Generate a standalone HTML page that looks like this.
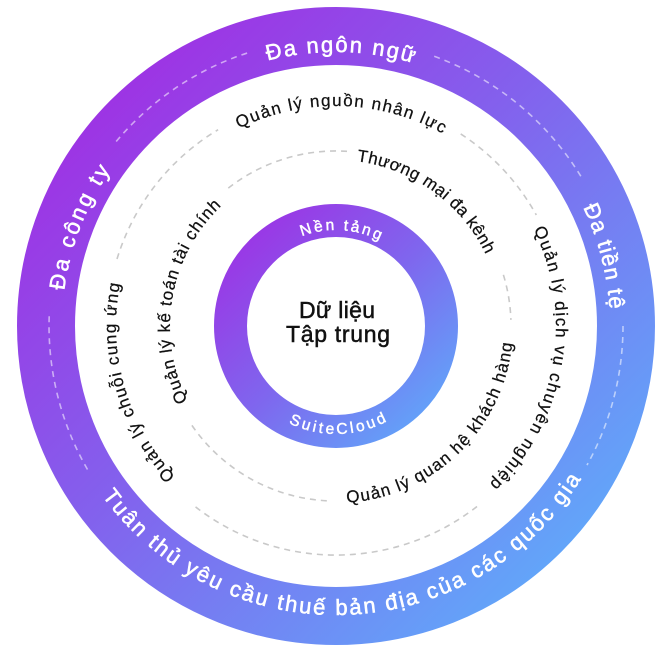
<!DOCTYPE html>
<html>
<head>
<meta charset="utf-8">
<style>
  html,body{margin:0;padding:0;background:#fff;}
  svg{display:block;}
  .band{font-family:"Liberation Sans","DejaVu Sans",sans-serif;font-size:22px;fill:#fff;stroke:#fff;stroke-width:0.55px;}
  .lbl{font-family:"Liberation Sans","DejaVu Sans",sans-serif;font-size:17px;fill:#111;stroke:#111;stroke-width:0.25px;}
  .core{font-family:"Liberation Sans","DejaVu Sans",sans-serif;font-size:15.5px;fill:#fff;stroke:#fff;stroke-width:0.45px;}
  .ctr{font-family:"Liberation Sans","DejaVu Sans",sans-serif;font-size:23px;fill:#111;stroke:#111;stroke-width:0.5px;}
</style>
</head>
<body>
<svg width="670" height="660" viewBox="0 0 670 660" xmlns="http://www.w3.org/2000/svg">
  <defs>
    <linearGradient id="gOuter" gradientUnits="userSpaceOnUse" x1="60" y1="60" x2="600" y2="600">
      <stop offset="0" stop-color="#a32ae2"/>
      <stop offset="0.45" stop-color="#8361ed"/>
      <stop offset="1" stop-color="#5db0fb"/>
    </linearGradient>
    <linearGradient id="gCore" gradientUnits="userSpaceOnUse" x1="230" y1="215" x2="445" y2="440">
      <stop offset="0" stop-color="#a02de3"/>
      <stop offset="0.5" stop-color="#7f66ee"/>
      <stop offset="1" stop-color="#5cb0fb"/>
    </linearGradient>
    <path id="cw274" d="M 336 600 A 274 274 0 1 1 336 52 A 274 274 0 1 1 336 600"/>
    <path id="cw220" d="M 336 546 A 220 220 0 1 1 336 106 A 220 220 0 1 1 336 546"/>
    <path id="cw166" d="M 336 492 A 166 166 0 1 1 336 160 A 166 166 0 1 1 336 492"/>
    <path id="cw96" d="M 336 422 A 96 96 0 1 1 336 230 A 96 96 0 1 1 336 422"/>
    <path id="ccw289" d="M 336 37 A 289 289 0 1 0 336 615 A 289 289 0 1 0 336 37"/>
    <path id="ccw177" d="M 336 149 A 177 177 0 1 0 336 503 A 177 177 0 1 0 336 149"/>
    <path id="ccw108" d="M 336 218 A 108 108 0 1 0 336 434 A 108 108 0 1 0 336 218"/>
  </defs>

  <circle cx="336" cy="326" r="290" fill="none" stroke="url(#gOuter)" stroke-width="58"/>

  <g fill="none" stroke="#ffffff" stroke-opacity="0.55" stroke-width="1.6" stroke-dasharray="6 5">
    <path d="M 116.2 141.5 A 287 287 0 0 1 247.3 53.0"/>
    <path d="M 434.2 56.3 A 287 287 0 0 1 582.0 178.2"/>
    <path d="M 623 326 A 287 287 0 0 1 587.0 465.1"/>
    <path d="M 87.5 469.5 A 287 287 0 0 1 49.2 316.0"/>
  </g>

  <g fill="none" stroke="#c9c9c9" stroke-width="1.6" stroke-dasharray="6 5">
    <path d="M 477.0 506.5 A 229 229 0 0 1 195.0 506.5"/>
    <path d="M 117.0 259.0 A 229 229 0 0 1 218.1 129.7"/>
    <path d="M 460.7 133.9 A 229 229 0 0 1 536.3 215.0"/>
    <path d="M 326.8 500.8 A 175 175 0 0 1 190.9 423.9"/>
    <path d="M 228.3 188.1 A 175 175 0 0 1 348.2 151.4"/>
    <path d="M 503.4 274.8 A 175 175 0 0 1 510.9 319.9"/>
  </g>

  <circle cx="336" cy="326" r="105.5" fill="none" stroke="url(#gCore)" stroke-width="33"/>

  <text class="band" transform="rotate(1 336 326)"><textPath href="#cw274" startOffset="50%" text-anchor="middle" textLength="148" lengthAdjust="spacing">Đa ngôn ngữ</textPath></text>
  <text class="band" transform="rotate(-69 336 326)"><textPath href="#cw274" startOffset="50%" text-anchor="middle" textLength="130" lengthAdjust="spacing">Đa công ty</textPath></text>
  <text class="band" transform="rotate(75.4 336 326)"><textPath href="#cw274" startOffset="50%" text-anchor="middle" textLength="106" lengthAdjust="spacing">Đa tiền tệ</textPath></text>
  <text class="band" transform="rotate(-2 336 326)"><textPath href="#ccw289" startOffset="50%" text-anchor="middle" textLength="565" lengthAdjust="spacing">Tuân thủ yêu cầu thuế bản địa của các quốc gia</textPath></text>

  <text class="lbl" transform="rotate(1.4 336 326)"><textPath href="#cw220" startOffset="50%" text-anchor="middle" textLength="212" lengthAdjust="spacing">Quản lý nguồn nhân lực</textPath></text>
  <text class="lbl" transform="rotate(-106 336 326)"><textPath href="#cw220" startOffset="50%" text-anchor="middle" textLength="208" lengthAdjust="spacing">Quản lý chuỗi cung ứng</textPath></text>
  <text class="lbl" transform="rotate(99.85 336 326)"><textPath href="#cw220" startOffset="50%" text-anchor="middle" textLength="276" lengthAdjust="spacing">Quản lý dịch vụ chuyên nghiệp</textPath></text>

  <text class="lbl" transform="rotate(35.8 336 326)"><textPath href="#cw166" startOffset="50%" text-anchor="middle" textLength="166" lengthAdjust="spacing">Thương mại đa kênh</textPath></text>
  <text class="lbl" transform="rotate(-80.2 336 326)"><textPath href="#cw166" startOffset="50%" text-anchor="middle" textLength="212" lengthAdjust="spacing">Quản lý kế toán tài chính</textPath></text>
  <text class="lbl" transform="rotate(-44 336 326)"><textPath href="#ccw177" startOffset="50%" text-anchor="middle" textLength="250" lengthAdjust="spacing">Quản lý quan hệ khách hàng</textPath></text>

  <text class="core" transform="rotate(3 336 326)"><textPath href="#cw96" startOffset="50%" text-anchor="middle" textLength="80" lengthAdjust="spacing">Nền tảng</textPath></text>
  <text class="core" transform="rotate(-1 336 326)"><textPath href="#ccw108" startOffset="50%" text-anchor="middle" textLength="102" lengthAdjust="spacing">SuiteCloud</textPath></text>

  <text class="ctr" x="337" y="318" text-anchor="middle" textLength="76" lengthAdjust="spacing">Dữ liệu</text>
  <text class="ctr" x="338" y="342" text-anchor="middle" textLength="104" lengthAdjust="spacing">Tập trung</text>
</svg>
</body>
</html>
